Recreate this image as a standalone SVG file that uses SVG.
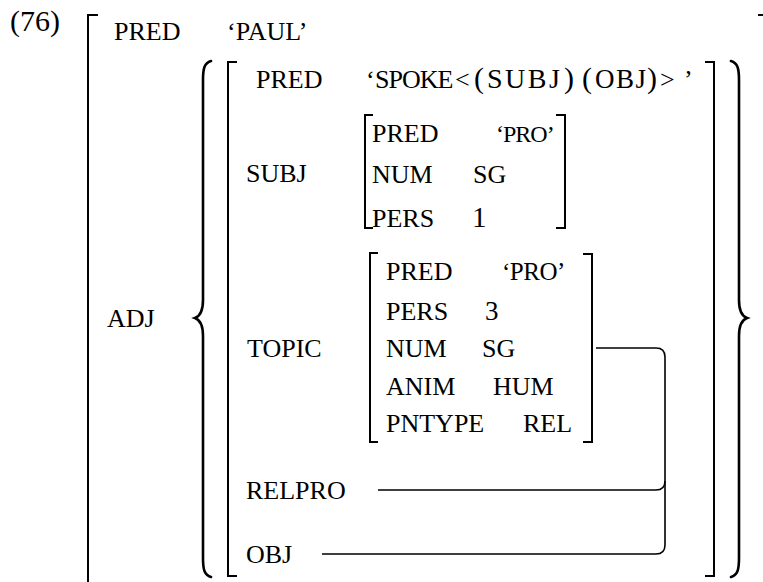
<svg xmlns="http://www.w3.org/2000/svg" width="763" height="582" viewBox="0 0 763 582">
  <style>
    .br { fill: none; stroke: #000; stroke-width: 2; }
    .brace { fill: none; stroke: #000; stroke-width: 2.6; stroke-linecap: round; }
    .link { fill: none; stroke: #000; stroke-width: 1.6; }
  </style>

  <!-- example number -->
  <g id="example-number">
    <text x="10" y="31" font-family="Liberation Serif" font-size="30" style="font-family:'Liberation Serif', serif">(76)</text>
  </g>

  <!-- outermost f-structure -->
  <g id="outer">
    <path class="br" d="M98 15H88V582"/>
    <path class="br" d="M758 15H763"/>
    <text x="114" y="40" font-family="Liberation Serif" font-size="26" style="font-family:'Liberation Serif', serif">PRED</text>
    <text x="227" y="40" font-family="Liberation Serif" font-size="26" style="font-family:'Liberation Serif', serif">&#8216;PAUL&#8217;</text>
    <text x="107" y="327" font-family="Liberation Serif" font-size="26" style="font-family:'Liberation Serif', serif">ADJ</text>
  </g>

  <!-- set of adjuncts -->
  <g id="adj-set">
    <path class="brace" d="M211 61C204.5 63 203 68 203 80V300C203 311 200.5 316 195 318C200.5 320 203 325 203 336V558C203 570 204.5 575 211 577"/>
    <path class="brace" d="M731 61C737.5 63 739 68 739 80V300C739 311 741.5 316 747 318C741.5 320 739 325 739 336V558C739 570 737.5 575 731 577"/>
  </g>

  <!-- relative clause f-structure -->
  <g id="clause">
    <path class="br" d="M237 62H228V576H237"/>
    <path class="br" d="M705 62H714V576H705"/>
    <text x="256" y="88" font-family="Liberation Serif" font-size="26" style="font-family:'Liberation Serif', serif">PRED</text>
    <text y="88" font-family="Liberation Serif" font-size="26" style="font-family:'Liberation Serif', serif"><tspan x="366">&#8216;</tspan><tspan x="375" letter-spacing="-1">SPOKE</tspan><tspan x="455">&lt;</tspan><tspan x="474" font-size="30">(</tspan><tspan x="487" font-size="28" letter-spacing="2.5">SUBJ</tspan><tspan x="564" font-size="30">)</tspan><tspan x="582" font-size="30">(</tspan><tspan x="595" font-size="27" letter-spacing="1.5">OBJ</tspan><tspan x="647" font-size="30">)</tspan><tspan x="660">&gt;</tspan><tspan x="684">&#8217;</tspan></text>
  </g>

  <!-- SUBJ -->
  <g id="subj">
    <text x="246" y="182" font-family="Liberation Serif" font-size="26" style="font-family:'Liberation Serif', serif">SUBJ</text>
    <path class="br" d="M373 115H365V228H373"/>
    <path class="br" d="M556 115H565V228H556"/>
    <text x="372" y="142" font-family="Liberation Serif" font-size="26" style="font-family:'Liberation Serif', serif">PRED</text>
    <text x="496" y="142" letter-spacing="-1" font-family="Liberation Serif" font-size="24" style="font-family:'Liberation Serif', serif">&#8216;PRO&#8217;</text>
    <text x="372" y="183" font-family="Liberation Serif" font-size="26" style="font-family:'Liberation Serif', serif">NUM</text>
    <text x="473" y="183" font-family="Liberation Serif" font-size="26" style="font-family:'Liberation Serif', serif">SG</text>
    <text x="372" y="227" font-family="Liberation Serif" font-size="26" style="font-family:'Liberation Serif', serif">PERS</text>
    <text x="472" y="227" font-family="Liberation Serif" font-size="29" style="font-family:'Liberation Serif', serif">1</text>
  </g>

  <!-- TOPIC -->
  <g id="topic">
    <text x="247" y="357" font-family="Liberation Serif" font-size="26" style="font-family:'Liberation Serif', serif">TOPIC</text>
    <path class="br" d="M378 253H370V442H378"/>
    <path class="br" d="M583 254H592V442H583"/>
    <text x="386" y="280" font-family="Liberation Serif" font-size="26" style="font-family:'Liberation Serif', serif">PRED</text>
    <text x="502" y="280" letter-spacing="-0.5" font-family="Liberation Serif" font-size="25" style="font-family:'Liberation Serif', serif">&#8216;PRO&#8217;</text>
    <text x="386" y="320" font-family="Liberation Serif" font-size="26" style="font-family:'Liberation Serif', serif">PERS</text>
    <text x="485" y="320" font-family="Liberation Serif" font-size="27" style="font-family:'Liberation Serif', serif">3</text>
    <text x="386" y="357" font-family="Liberation Serif" font-size="26" style="font-family:'Liberation Serif', serif">NUM</text>
    <text x="482" y="357" font-family="Liberation Serif" font-size="26" style="font-family:'Liberation Serif', serif">SG</text>
    <text x="386" y="395" font-family="Liberation Serif" font-size="26" style="font-family:'Liberation Serif', serif">ANIM</text>
    <text x="493" y="395" font-family="Liberation Serif" font-size="26" style="font-family:'Liberation Serif', serif">HUM</text>
    <text x="386" y="432" font-family="Liberation Serif" font-size="26" style="font-family:'Liberation Serif', serif">PNTYPE</text>
    <text x="523" y="432" font-family="Liberation Serif" font-size="26" style="font-family:'Liberation Serif', serif">REL</text>
  </g>

  <!-- RELPRO -->
  <g id="relpro">
    <text x="246" y="499" font-family="Liberation Serif" font-size="26" style="font-family:'Liberation Serif', serif">RELPRO</text>
  </g>

  <!-- OBJ -->
  <g id="obj">
    <text x="246" y="563" font-family="Liberation Serif" font-size="26" style="font-family:'Liberation Serif', serif">OBJ</text>
  </g>

  <!-- structure-sharing lines -->
  <g id="connectors">
    <path class="link" d="M596 348H656Q665 348 665 357V545Q665 554 656 554H322"/>
    <path class="link" d="M378 490H656Q665 490 665 481"/>
  </g>
</svg>
